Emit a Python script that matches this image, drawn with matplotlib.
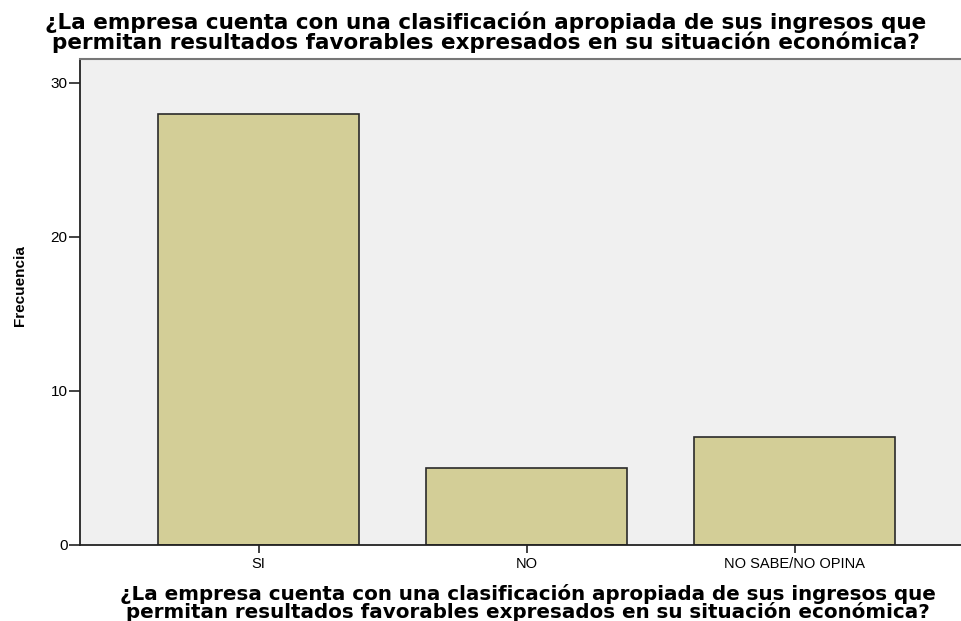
import matplotlib.pyplot as plt

categories = ['SI', 'NO', 'NO SABE/NO OPINA']
counts = [28, 5, 7]
yticks = [0, 10, 20, 30]
title = ('¿La empresa cuenta con una clasificación apropiada de sus ingresos que\n'
         'permitan resultados favorables expresados en su situación económica?')

fig = plt.figure(figsize=(9.61, 6.21), dpi=100)
ax = fig.add_axes([80 / 961, 1 - 545 / 621, 1 - 80 / 961, (545 - 59) / 621])
ax.set_facecolor('#f0f0f0')

x = range(len(categories))
ax.bar(x, counts, width=0.75, color='#d3ce97', edgecolor='#2a2a2a', linewidth=1.2, zorder=2)

ax.set_xlim(-0.666, 2.621)
ax.set_ylim(0, 31.55)
ax.set_xticks(list(x))
ax.set_xticklabels(categories, fontsize=10.5, family='Liberation Sans')
ax.set_yticks(yticks)
ax.set_yticklabels([str(t) for t in yticks], fontsize=11, family='Liberation Sans')
ax.tick_params(axis='y', direction='out', length=8, width=1.2, color='#222222', pad=1)
ax.tick_params(axis='x', direction='out', length=6, width=1.2, color='#222222', pad=3)

for s in ['left', 'bottom']:
    ax.spines[s].set_color('#222222')
    ax.spines[s].set_linewidth(1.3)
ax.spines['top'].set_color('#777777')
ax.spines['top'].set_linewidth(1.5)
ax.spines['right'].set_visible(False)

fig.text(20 / 961, 1 - 286 / 621, 'Frecuencia', rotation=90, ha='center', va='center',
         fontsize=11, fontweight='bold', family='Liberation Sans')
fig.text(485.5 / 961, 1 - 32 / 621, title, ha='center', va='center', fontsize=15.5,
         fontweight='bold', linespacing=0.93)
fig.text(528 / 961, 1 - 603 / 621, title, ha='center', va='center', fontsize=14.3,
         fontweight='bold', linespacing=0.9)

fig.savefig('out.png', dpi=100)
